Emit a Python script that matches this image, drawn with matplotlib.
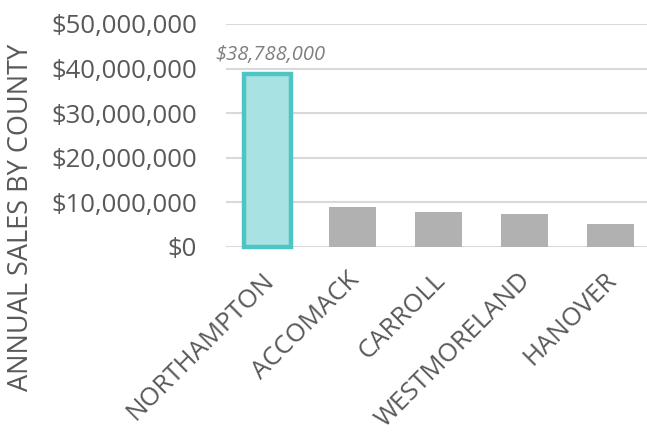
import matplotlib.pyplot as plt
import matplotlib.transforms as mtransforms
from matplotlib.ticker import FuncFormatter

plt.rcParams['font.family'] = ['Open Sans', 'DejaVu Sans']

counties = ["NORTHAMPTON", "ACCOMACK", "CARROLL", "WESTMORELAND", "HANOVER"]
sales = [38788000, 9050000, 7850000, 7400000, 5250000]
highlight = "NORTHAMPTON"

fig = plt.figure(figsize=(6.47, 4.41), dpi=100)
ax = fig.add_axes([226/647, 1-247/441, (647-226)/647, 223/441])

x = range(len(counties))
for i, (c, v) in enumerate(zip(counties, sales)):
    if c == highlight:
        ax.bar(i, v, width=0.55, color="#a8e2e2", edgecolor="#4ec5c5",
               linewidth=3.2, zorder=3, clip_on=False)
        ax.text(i - 0.6, v + 4.3e6, "${:,.0f}".format(v), style="italic",
                fontsize=14.5, color="#7f7f7f", ha="left", va="center")
    else:
        ax.bar(i, v, width=0.55, color="#b0b1b0", zorder=3)

ax.set_xlim(-0.48, 4.43)
ax.set_ylim(0, 50000000)
ax.set_yticks(range(0, 50000001, 10000000))
ax.yaxis.set_major_formatter(FuncFormatter(lambda v, p: "${:,.0f}".format(v)))
ax.grid(axis="y", color="#d9d9d9", linewidth=1.5, zorder=0)
ax.set_axisbelow(True)
for s in ax.spines.values():
    s.set_visible(False)
ax.tick_params(axis="y", length=0, pad=21, labelsize=18.5, labelcolor="#595959")
ax.tick_params(axis="x", length=0, pad=15)
ax.set_xticks(list(x))
ax.set_xticklabels(counties, rotation=45, ha="right", va="top",
                   rotation_mode="anchor", fontsize=18.5, color="#595959")
shift = mtransforms.ScaledTranslation(-6/100, 0, fig.dpi_scale_trans)
for lab in ax.get_xticklabels():
    lab.set_transform(lab.get_transform() + shift)
fig.text(0.032, 0.507, "ANNUAL SALES BY COUNTY", rotation=90, fontsize=19.5,
         color="#595959", ha="center", va="center")

fig.savefig("out.png", dpi=100)
